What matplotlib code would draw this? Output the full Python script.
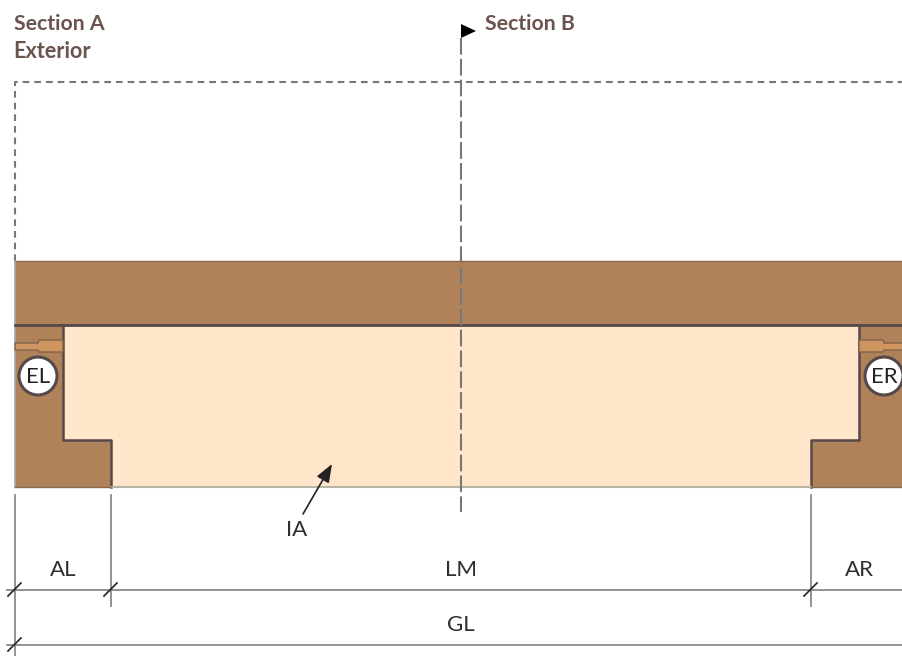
import matplotlib
matplotlib.use('Agg')
import matplotlib.pyplot as plt
from matplotlib.patches import Polygon, Rectangle, Circle

# everything is in reference pixels, y going down
W, H = 903, 656

BROWN = '#b08259'
CREAM = '#ffe6ca'
GASKET = '#cf9560'
EDGE = '#55494a'
DIM = '#8a8a8c'
TITLE = '#6b534e'
LABEL = '#2f2f2f'

band = [15, 261, 888, 64]
left_block = [(15, 325), (63, 325), (63, 440), (111, 440), (111, 487), (15, 487)]
right_block = [(903, 325), (859, 325), (859, 440), (811, 440), (811, 487), (903, 487)]
opening = [(63, 325), (859, 325), (859, 440), (811, 440), (811, 487), (111, 487), (111, 440), (63, 440)]
left_gasket = [(15, 343), (38, 343), (39, 340), (63, 340), (63, 352), (39, 352), (38, 350), (15, 350)]
right_gasket = [(903, 343), (884, 343), (883, 340), (859, 340), (859, 352), (883, 352), (884, 350), (903, 350)]

circle_labels = ['EL', 'ER']
circle_x = [38, 884]
circle_y = 376

dim_labels = ['AL', 'LM', 'AR', 'GL']
dim_label_x = [63.5, 461, 859, 461]
dim_label_y = [570, 570, 570, 625]
# x, top, bottom of the witness lines
witness = [(15, 495, 656), (111, 495, 606), (811, 495, 606)]
dim_rows = [590, 645]
ticks = [(15, 590), (111, 590), (811, 590), (15, 645)]

fig = plt.figure(figsize=(W / 100, H / 100), dpi=100)
ax = fig.add_axes([0, 0, 1, 1])
ax.set_xlim(0, W)
ax.set_ylim(H, 0)
ax.axis('off')

ax.add_patch(Rectangle((band[0], band[1]), band[2], band[3], fc=BROWN, ec='none', zorder=1))
ax.add_patch(Polygon(left_block, fc=BROWN, ec='none', zorder=1))
ax.add_patch(Polygon(right_block, fc=BROWN, ec='none', zorder=1))
ax.add_patch(Polygon(opening, fc=CREAM, ec='none', zorder=2))

# outlines
ax.plot([15, 903], [261, 261], color='#8a6a4c', lw=1, zorder=3)
ax.plot([15, 15], [261, 487], color='#a9a4a2', lw=1.2, zorder=3)
ax.plot([15, 903], [325, 325], color=EDGE, lw=2, zorder=3)
ax.plot([63, 63, 111, 111], [325, 440, 440, 487], color=EDGE, lw=1.8, zorder=3)
ax.plot([859, 859, 811, 811], [325, 440, 440, 487], color=EDGE, lw=1.8, zorder=3)
ax.plot([111, 811], [487, 487], color='#b9b5a4', lw=1.5, zorder=3)
ax.plot([15, 111], [487, 487], color='#8a6a4c', lw=1, zorder=3)
ax.plot([811, 903], [487, 487], color='#8a6a4c', lw=1, zorder=3)

for pts in (left_gasket, right_gasket):
    ax.add_patch(Polygon(pts, fc=GASKET, ec='#7d5f48', lw=0.9, zorder=3))

for name, cx in zip(circle_labels, circle_x):
    ax.add_patch(Circle((cx, circle_y), 19, fc='white', ec=EDGE, lw=2.2, zorder=4))
    ax.text(cx, circle_y + 1, name, family='Lato', fontsize=16, color='#222222',
            ha='center', va='center', zorder=5)

# dashed outline of section A
ax.plot([15, 15, 903], [261, 82, 82], color='#77777a', lw=1.5, dashes=(3.2, 2.4), zorder=2)

# section B cut line and flag
ax.plot([461, 461], [38, 512], color='#77777a', lw=1.5, dashes=(8, 2), zorder=6)
ax.add_patch(Polygon([(461, 24), (461, 38), (476, 31)], fc='black', ec='none', zorder=7))

for x, top, bottom in witness:
    ax.plot([x, x], [top, bottom], color=DIM, lw=1.3, zorder=2)
for y in dim_rows:
    ax.plot([7, W], [y, y], color=DIM, lw=1.3, zorder=2)
for x, y in ticks:
    ax.plot([x - 7, x + 6], [y + 6, y - 7], color='#222222', lw=1.2, zorder=3)

for name, x, y in zip(dim_labels, dim_label_x, dim_label_y):
    ax.text(x, y, name, family='Lato', fontsize=16, color=LABEL, ha='center', va='center')

ax.annotate('', xy=(332, 464), xytext=(303, 514),
            arrowprops=dict(arrowstyle='-|>,head_length=1.1,head_width=0.42', color='#222222',
                            lw=1.2, shrinkA=0, shrinkB=0), zorder=6)
ax.text(297, 530, 'IA', family='Lato', fontsize=16, color=LABEL, ha='center', va='center')

ax.text(14, 24, 'Section A', family='Lato', fontweight='bold', fontsize=15.3, color=TITLE, ha='left', va='center')
ax.text(13.5, 51, 'Exterior', family='Lato', fontweight='bold', fontsize=15.6, color=TITLE, ha='left', va='center')
ax.text(485, 24, 'Section B', family='Lato', fontweight='bold', fontsize=15.3, color=TITLE, ha='left', va='center')

fig.savefig('out.png', dpi=100, facecolor='white')
